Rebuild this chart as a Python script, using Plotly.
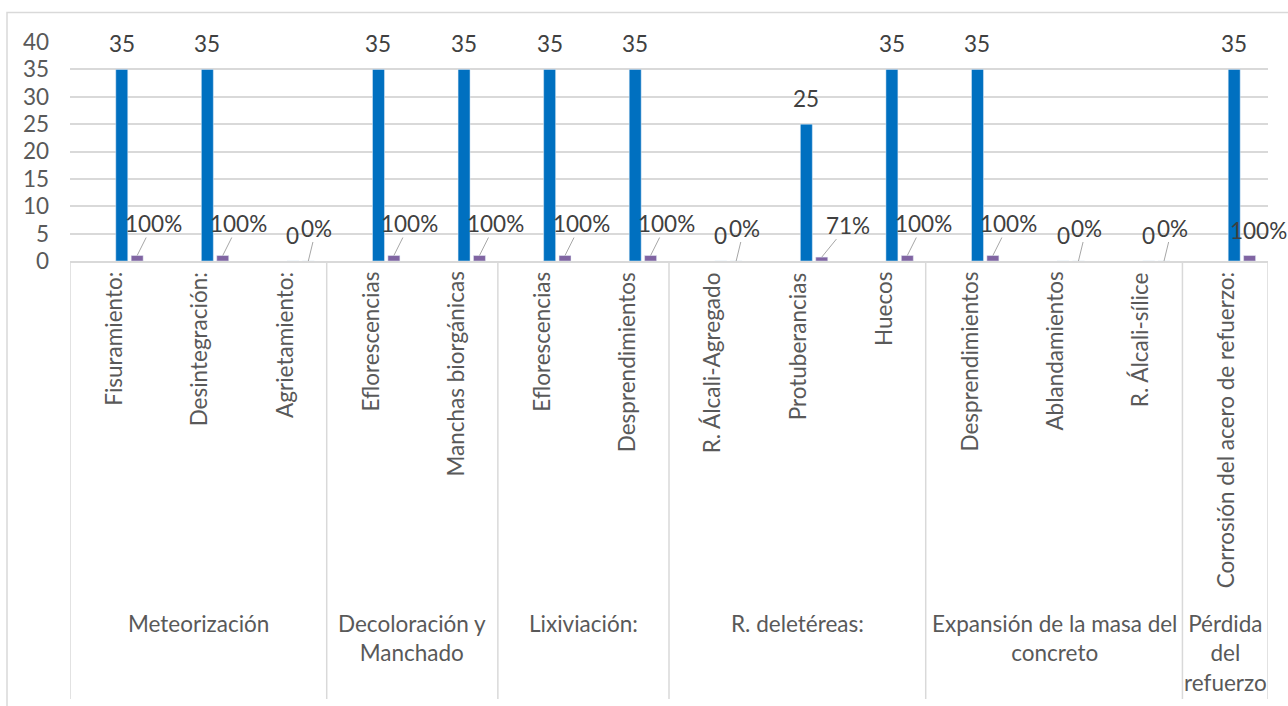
import plotly.graph_objects as go

# Inner categories (lesiones) and the group each block belongs to
categorias = [
    "Fisuramiento:", "Desintegración:", "Agrietamiento:",
    "Eflorescencias", "Manchas biorgánicas",
    "Eflorescencias", "Desprendimientos",
    "R. Álcali-Agregado", "Protuberancias", "Huecos",
    "Desprendimientos", "Ablandamientos", "R. Álcali-sílice",
    "Corrosión del acero de refuerzo:",
]
grupos = [
    "Meteorización",
    "Decoloración y<br>Manchado",
    "Lixiviación:",
    "R. deletéreas:",
    "Expansión de la masa del<br>concreto",
    "Pérdida<br>del<br>refuerzo",
]
tamano_grupo = [3, 2, 2, 3, 3, 1]

# Series values
cantidad = [35, 35, 0, 35, 35, 35, 35, 0, 25, 35, 35, 0, 0, 35]
porcentaje = [1.0, 1.0, 0.0, 1.0, 1.0, 1.0, 1.0, 0.0, 0.71, 1.0, 1.0, 0.0, 0.0, 1.0]

y_ticks = [0, 5, 10, 15, 20, 25, 30, 35, 40]

AZUL = "#0070C0"
MORADO = "#8064A2"
TXT = "#595959"
TXT_DATOS = "#404040"
GRID = "#D9D9D9"
FONT = "Lato"
FS = 22.5

x = list(range(len(categorias)))
ANCHO = 0.14
OFF_AZUL = 0.035
OFF_MORADO = 0.215

fig = go.Figure()
fig.add_trace(go.Bar(x=x, y=cantidad, marker_color=AZUL, width=ANCHO,
                     offset=OFF_AZUL, hoverinfo="skip"))
fig.add_trace(go.Bar(x=x, y=porcentaje, marker_color=MORADO, width=ANCHO,
                     offset=OFF_MORADO, hoverinfo="skip"))

annotations = []
shapes = []

# Count labels above the blue bars
for i, v in enumerate(cantidad):
    annotations.append(dict(
        x=i + OFF_AZUL + ANCHO / 2, y=v, xref="x", yref="y",
        text=str(v), showarrow=False, yanchor="middle", yshift=26,
        font=dict(family=FONT, size=FS, color=TXT_DATOS)))

# Percentage callouts with leader lines
for i, p in enumerate(porcentaje):
    txt = f"{round(p * 100)}%"
    if i == len(porcentaje) - 1:
        ax, ay, arrow = 9, -25, False
    elif p == 0:
        ax, ay, arrow = 8, -33, True
    elif p < 1:
        ax, ay, arrow = 26, -32, True
    else:
        ax, ay, arrow = 16, -32, True
    xp = i + OFF_MORADO + ANCHO / 2
    if arrow:
        annotations.append(dict(
            x=xp, y=p, xref="x", yref="y", text=txt, showarrow=True,
            ax=ax, ay=ay, arrowhead=0, arrowwidth=1, arrowcolor="#A6A6A6",
            standoff=0, borderpad=0,
            font=dict(family=FONT, size=FS, color=TXT_DATOS)))
    else:
        annotations.append(dict(
            x=xp, y=p, xref="x", yref="y", text=txt, showarrow=False,
            xshift=ax, yshift=-ay, borderpad=0,
            font=dict(family=FONT, size=FS, color=TXT_DATOS)))

# Rotated inner category labels
for i, c in enumerate(categorias):
    annotations.append(dict(
        x=i, y=0, xref="x", yref="paper", text=c, showarrow=False,
        textangle=-90, yanchor="top", xanchor="center", yshift=-9,
        font=dict(family=FONT, size=FS, color=TXT)))

# Group labels and dividers
inicio = -0.5
divisiones = [inicio]
for g, n in zip(grupos, tamano_grupo):
    fin = inicio + n
    annotations.append(dict(
        x=(inicio + fin) / 2, y=0, xref="x", yref="paper", text=g,
        showarrow=False, yanchor="top", xanchor="center", yshift=-347,
        font=dict(family=FONT, size=FS, color=TXT)))
    divisiones.append(fin)
    inicio = fin

for d in divisiones:
    shapes.append(dict(
        type="line", xref="x", yref="paper", x0=d, x1=d,
        ysizemode="pixel", yanchor=0, y0=0, y1=-438,
        line=dict(color=GRID, width=1.5)))

# Chart-area border
shapes.append(dict(
    type="rect", xref="paper", yref="paper",
    x0=(7 - 70) / 1198, x1=1.2, y0=-3.0, y1=(261 - 12.5) / 219,
    line=dict(color=GRID, width=1.5), fillcolor="rgba(0,0,0,0)", layer="below"))

fig.update_layout(
    width=1288, height=706,
    margin=dict(l=70, r=20, t=42, b=445),
    paper_bgcolor="white", plot_bgcolor="white",
    showlegend=False, barmode="overlay",
    annotations=annotations, shapes=shapes,
    xaxis=dict(range=[-0.5, len(categorias) - 0.5], showticklabels=False,
               showgrid=False, zeroline=False, showline=True,
               linecolor=GRID, linewidth=1.5, ticks=""),
    yaxis=dict(range=[0, 40], tickvals=y_ticks, showgrid=True, gridcolor=GRID,
               gridwidth=1.5, zeroline=False, showline=False, ticks="",
               ticklabelstandoff=20,
               tickfont=dict(family=FONT, size=FS, color=TXT)),
)

fig.write_html("out.html")
